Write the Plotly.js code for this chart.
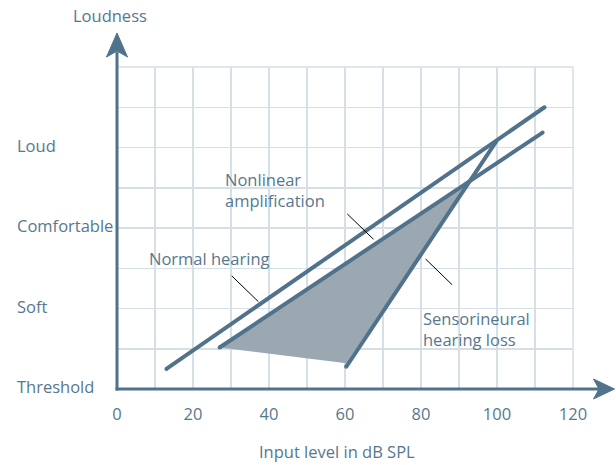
<!DOCTYPE html>
<html><head><meta charset="utf-8">
<script src="https://cdn.plot.ly/plotly-3.0.1.min.js"></script>
<style>html,body{margin:0;padding:0;background:#fff}</style>
</head><body><div id="chart" style="width:616px;height:465px"></div>
<script>
// ---- data ----
const normalX = [13, 112.5];
const normalY = [0.5, 7.0];
const nonlinX = [27, 112];
const nonlinY = [1.03, 6.37];
const sensX = [60.3, 99.8];
const sensY = [0.55, 6.15];
const areaX = [27, 92.8, 60.3, 27];
const areaY = [1.03, 5.19, 0.64, 1.03];
const leaderNormalX = [30.2, 37.2];
const leaderNormalY = [2.81, 2.17];
const leaderNonlinX = [60.6, 67.5];
const leaderNonlinY = [4.35, 3.72];
const leaderSensX = [81.2, 88.2];
const leaderSensY = [3.23, 2.59];
const xTickVals = [0, 10, 20, 30, 40, 50, 60, 70, 80, 90, 100, 110, 120];
const xTickText = ['0', '', '20', '', '40', '', '60', '', '80', '', '100', '', '120'];
const yTickVals = [0, 1, 2, 3, 4, 5, 6, 7, 8];
const yLabelVals = [0, 2, 4, 6];
const yLabelText = ['Threshold', 'Soft', 'Comfortable', 'Loud'];
const labelNormal = 'Normal hearing';
const labelNonlin = 'Nonlinear<br>amplification';
const labelSens = 'Sensorineural<br>hearing loss';
const xTitle = 'Input level in dB SPL';
const yTitle = 'Loudness';

// ---- styles ----
const LINE = '#51728b';
const TEXT = '#56788f';
const FILL = '#9ba8b2';
const GRID = '#d6dee6';
const FONT = 'Open Sans, Noto Sans, sans-serif';
const FS = 16.5;

const traces = [
  {x: areaX, y: areaY, mode: 'lines', fill: 'toself', fillcolor: FILL, line: {width: 0}, hoverinfo: 'skip'},
  {x: normalX, y: normalY, mode: 'lines+markers', line: {color: LINE, width: 4}, marker: {size: 4, color: LINE}},
  {x: nonlinX, y: nonlinY, mode: 'lines+markers', line: {color: LINE, width: 4}, marker: {size: 4, color: LINE}},
  {x: sensX, y: sensY, mode: 'lines+markers', line: {color: LINE, width: 4}, marker: {size: 4, color: LINE}},
  {x: leaderNormalX, y: leaderNormalY, mode: 'lines', line: {color: '#000', width: 1}},
  {x: leaderNonlinX, y: leaderNonlinY, mode: 'lines', line: {color: '#000', width: 1}},
  {x: leaderSensX, y: leaderSensY, mode: 'lines', line: {color: '#000', width: 1}}
];

const annotations = [
  {x: 7.84, y: 3.23, xref: 'x', yref: 'y', text: labelNormal, showarrow: false, xanchor: 'left', yanchor: 'middle', align: 'left'},
  {x: 28.0, y: 4.955, xref: 'x', yref: 'y', text: labelNonlin, showarrow: false, xanchor: 'left', yanchor: 'middle', align: 'left'},
  {x: 80.05, y: 1.5, xref: 'x', yref: 'y', text: labelSens, showarrow: false, xanchor: 'left', yanchor: 'middle', align: 'left'},
  {x: 0.4816, y: -0.1944, xref: 'paper', yref: 'paper', text: xTitle, showarrow: false, xanchor: 'center', yanchor: 'middle'},
  {x: -0.0143, y: 1.160, xref: 'paper', yref: 'paper', text: yTitle, showarrow: false, xanchor: 'center', yanchor: 'middle'}
];
yLabelVals.forEach((v, i) => annotations.push({
  x: -0.2233, y: v + 0.05, xref: 'paper', yref: 'y', text: yLabelText[i], showarrow: false,
  xanchor: 'left', yanchor: 'middle', align: 'left'
}));

const shapes = [
  // top and right grid borders
  {type: 'line', xref: 'paper', yref: 'paper', x0: 0, x1: 1, y0: 1, y1: 1, line: {color: GRID, width: 1.5}, layer: 'below'},
  {type: 'line', xref: 'paper', yref: 'paper', x0: 1, x1: 1, y0: 0, y1: 1, line: {color: GRID, width: 1.5}, layer: 'below'},
  // y axis line + arrow
  {type: 'path', xref: 'paper', yref: 'paper', xsizemode: 'pixel', ysizemode: 'pixel', xanchor: 0, yanchor: 0,
   path: 'M0,-1.5 L0,337', line: {color: LINE, width: 3}},
  {type: 'path', xref: 'paper', yref: 'paper', xsizemode: 'pixel', ysizemode: 'pixel', xanchor: 0, yanchor: 0,
   path: 'M0,356 L-10.5,332 L0,338 L10.5,332 Z', fillcolor: LINE, line: {color: LINE, width: 1}},
  // x axis line + arrow
  {type: 'path', xref: 'paper', yref: 'paper', xsizemode: 'pixel', ysizemode: 'pixel', xanchor: 0, yanchor: 0,
   path: 'M-1.5,0 L483,0', line: {color: LINE, width: 3}},
  {type: 'path', xref: 'paper', yref: 'paper', xsizemode: 'pixel', ysizemode: 'pixel', xanchor: 0, yanchor: 0,
   path: 'M497.5,0 L476.5,10 L482,0 L476.5,-10 Z', fillcolor: LINE, line: {color: LINE, width: 1}}
];

const layout = {
  width: 616, height: 465,
  margin: {l: 117, r: 43, t: 67, b: 76},
  paper_bgcolor: '#fff', plot_bgcolor: '#fff',
  showlegend: false,
  font: {family: FONT, size: FS, color: TEXT},
  xaxis: {range: [0, 120], tickvals: xTickVals, ticktext: xTickText, showgrid: true, gridcolor: GRID, gridwidth: 1.5,
          zeroline: false, showline: false, ticks: '', ticklabelstandoff: 13, tickfont: {size: FS, color: TEXT}, fixedrange: true},
  yaxis: {range: [0, 8], tickvals: yTickVals, showticklabels: false, showgrid: true, gridcolor: GRID, gridwidth: 1.5,
          zeroline: false, showline: false, ticks: '', fixedrange: true},
  annotations: annotations,
  shapes: shapes
};

Plotly.newPlot('chart', traces, layout, {displayModeBar: false, staticPlot: true});
</script>
</body></html>
